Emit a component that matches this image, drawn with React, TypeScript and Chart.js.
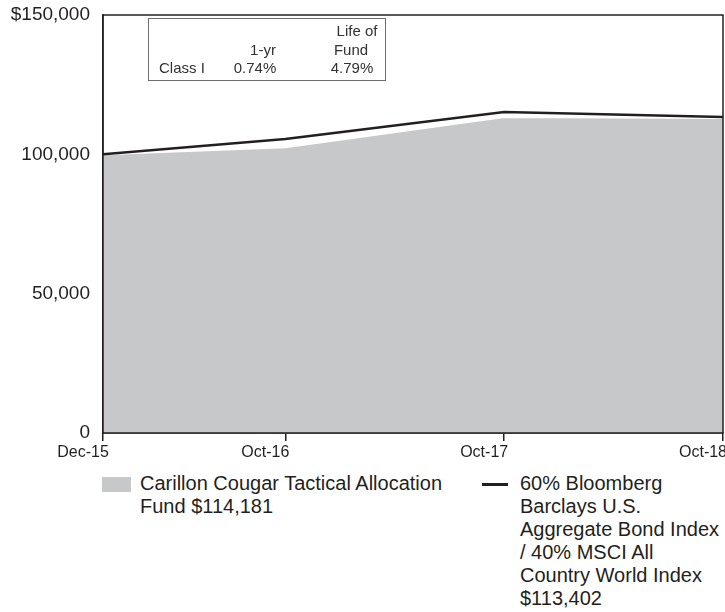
import React, { useEffect, useRef } from 'react';
import { Chart, registerables } from 'chart.js';

Chart.register(...registerables);

// ---- data ----
const categories = ['Dec-15', 'Oct-16', 'Oct-17', 'Oct-18'];
const monthOffsets = [0, 10, 22, 34];
const fundValues = [100000, 102500, 113400, 113000];
const indexValues = [100000, 105500, 115200, 113402];
const yTickValues = [0, 50000, 100000, 150000];
const yTickLabels = ['0', '50,000', '100,000', '$150,000'];
const fundLegendLines = ['Carillon Cougar Tactical Allocation', 'Fund $114,181'];
const indexLegendLines = [
  '60% Bloomberg',
  'Barclays U.S.',
  'Aggregate Bond Index',
  '/ 40% MSCI All',
  'Country World Index',
  '$113,402',
];
const tableHeaderTop = ['', '', 'Life of'];
const tableHeader = ['', '1-yr', 'Fund'];
const tableRow = ['Class I', '0.74%', '4.79%'];

const INK = '#231f20';
const GRAY = '#c7c8ca';
const FONT = '"Liberation Sans", Arial, Helvetica, sans-serif';

const boxPlugin = {
  id: 'plotBox',
  afterDatasetsDraw(chart: any) {
    const { ctx, chartArea } = chart;
    ctx.save();
    ctx.strokeStyle = INK;
    ctx.lineWidth = 1.5;
    ctx.strokeRect(chartArea.left, chartArea.top, chartArea.right - chartArea.left, chartArea.bottom - chartArea.top);
    ctx.restore();
  },
};

export default function App() {
  const canvasRef = useRef<HTMLCanvasElement | null>(null);

  useEffect(() => {
    if (!canvasRef.current) return;
    const chart = new Chart(canvasRef.current, {
      type: 'line',
      data: {
        datasets: [
          {
            label: 'Index',
            data: monthOffsets.map((m, i) => ({ x: m, y: indexValues[i] })),
            borderColor: INK,
            borderWidth: 2.5,
            pointRadius: 0,
            fill: false,
            tension: 0,
            order: 0,
          },
          {
            label: 'Fund',
            data: monthOffsets.map((m, i) => ({ x: m, y: fundValues[i] })),
            borderColor: '#ffffff',
            borderWidth: 2,
            backgroundColor: GRAY,
            pointRadius: 0,
            fill: 'origin',
            tension: 0,
            order: 1,
          },
        ],
      },
      options: {
        animation: false,
        responsive: false,
        devicePixelRatio: 1,
        layout: { padding: { left: 0, top: 15, right: 2, bottom: 7 } },
        plugins: { legend: { display: false }, tooltip: { enabled: false } },
        scales: {
          x: {
            type: 'linear',
            min: 0,
            max: 34,
            afterBuildTicks: (scale: any) => {
              scale.ticks = monthOffsets.map((v) => ({ value: v }));
            },
            afterFit: (scale: any) => {
              scale.height = 30;
              scale.paddingLeft = 0;
              scale.paddingRight = 0;
            },
            grid: {
              display: true,
              drawOnChartArea: false,
              drawTicks: true,
              tickLength: 8,
              color: INK,
              lineWidth: 1.5,
            },
            border: { display: true, color: INK, width: 1.5 },
            ticks: {
              autoSkip: false,
              maxRotation: 0,
              labelOffset: -20,
              padding: 2,
              color: INK,
              font: { family: FONT, size: 16 },
              callback: (v: any) => categories[monthOffsets.indexOf(Number(v))] ?? '',
            },
          },
          y: {
            min: 0,
            max: 150000,
            afterBuildTicks: (scale: any) => {
              scale.ticks = yTickValues.map((v) => ({ value: v }));
            },
            afterFit: (scale: any) => {
              scale.width = 103;
              scale.paddingTop = 0;
              scale.paddingBottom = 0;
            },
            grid: { display: true, drawOnChartArea: false, drawTicks: false },
            border: { display: true, color: INK, width: 1.5 },
            ticks: {
              padding: 13,
              color: INK,
              font: { family: FONT, size: 19 },
              callback: (v: any) => yTickLabels[yTickValues.indexOf(Number(v))] ?? '',
            },
          },
        },
      },
      plugins: [boxPlugin],
    });
    return () => chart.destroy();
  }, []);

  const cell = (text: string, left: number, top: number, width: number, align: 'left' | 'center') => (
    <div
      key={`${text}-${left}-${top}`}
      style={{
        position: 'absolute',
        left,
        top,
        width,
        textAlign: align,
        fontSize: 15,
        lineHeight: '16px',
        whiteSpace: 'nowrap',
        color: '#333132',
      }}
    >
      {text}
    </div>
  );

  return (
    <div
      style={{
        position: 'absolute',
        left: 0,
        top: 0,
        width: 725,
        height: 612,
        background: '#ffffff',
        fontFamily: FONT,
        color: INK,
      }}
    >
      <canvas ref={canvasRef} width={725} height={470} style={{ position: 'absolute', left: 0, top: 0 }} />

      {/* performance table inset */}
      <div
        style={{
          position: 'absolute',
          left: 148,
          top: 18,
          width: 238,
          height: 63,
          border: '1px solid #6d6e71',
          background: '#ffffff',
          boxSizing: 'border-box',
        }}
      />
      {cell(tableHeaderTop[2], 321, 23, 72, 'center')}
      {cell(tableHeader[1], 228, 42, 70, 'center')}
      {cell(tableHeader[2], 315, 42, 72, 'center')}
      {cell(tableRow[0], 159, 60, 60, 'left')}
      {cell(tableRow[1], 220, 60, 70, 'center')}
      {cell(tableRow[2], 316, 60, 72, 'center')}

      {/* legend */}
      <div style={{ position: 'absolute', left: 102, top: 477, width: 29, height: 15, background: GRAY }} />
      <div style={{ position: 'absolute', left: 140, top: 472, fontSize: 20, lineHeight: '23px', whiteSpace: 'nowrap' }}>
        {fundLegendLines.map((l) => (
          <div key={l}>{l}</div>
        ))}
      </div>
      <div style={{ position: 'absolute', left: 482, top: 483, width: 26, height: 2.5, background: INK }} />
      <div style={{ position: 'absolute', left: 520, top: 472, fontSize: 20, lineHeight: '23px', whiteSpace: 'nowrap' }}>
        {indexLegendLines.map((l) => (
          <div key={l}>{l}</div>
        ))}
      </div>
    </div>
  );
}
